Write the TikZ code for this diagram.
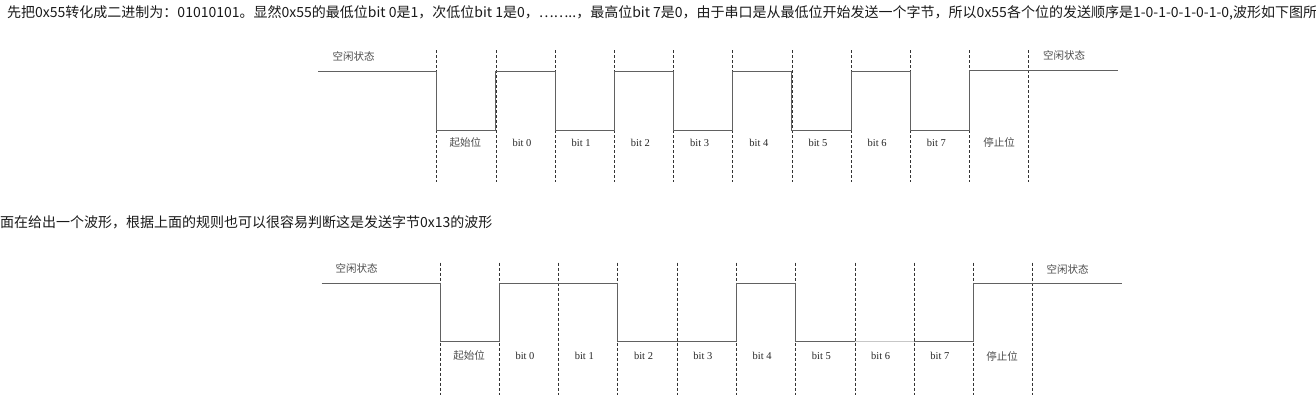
\documentclass[tikz,border=0pt]{standalone}
\usepackage{fontspec}
\setmainfont{Liberation Serif}
\newfontfamily\cjk{Noto Sans CJK SC}
\begin{document}
\begin{tikzpicture}[x=1pt,y=-1pt,
 wave/.style={draw=black!62, line width=0.9pt},
 wavelight/.style={draw=black!22, line width=0.9pt},
 guide/.style={draw=black!80, line width=0.7pt, dash pattern=on 3pt off 2pt},
 lbl/.style={font=\fontsize{10.5}{12}\selectfont, text=black!85, inner sep=0},
 cn/.style={font=\cjk\fontsize{10.5}{12}\selectfont, text=black!70, inner sep=0},
 para/.style={font=\cjk\fontsize{14}{16}\selectfont, text=black!90, anchor=west, inner sep=0}]
\useasboundingbox (0,0) rectangle (1316,410);
\clip (0,0) rectangle (1316,410);

% paragraph texts
\node[para] (t1) at (7,13) {先把0x55转化成二进制为：01010101。显然0x55的最低位bit 0是1，次低位bit 1是0，……..，最高位bit 7是0，由于串口是从最低位开始发送一个字节，所以0x55各个位的发送顺序是1-0-1-0-1-0-1-0,波形如下图所示};
\node[para] (t2) at (0,222) {面在给出一个波形，根据上面的规则也可以很容易判断这是发送字节0x13的波形};

% ---------- top waveform (0x55) ----------
\foreach \i in {0,...,10} {
  \draw[guide] (436.7+59.2*\i,50) -- (436.7+59.2*\i,182);
}
\draw[wave] (318,71)--(436.7,71)--(436.7,130)--(495.9,130)--(495.9,71)--(555.1,71)--(555.1,130)--(614.3,130)--(614.3,71)--(673.5,71)--(673.5,130)--(732.7,130)--(732.7,71)--(791.9,71)--(791.9,130)--(851.1,130)--(851.1,71)--(910.3,71)--(910.3,130)--(969.5,130)--(969.5,70)--(1118,70);

\node[cn] (ia) at (353.5,56) {空闲状态};
\node[cn] (ib) at (1064,55) {空闲状态};
\node[cn] (sa) at (465.3,142.7) {起始位};
\foreach \i in {0,...,7} {
  \node[lbl] (ta\i) at (522+59.2*\i,142.7) {bit \i};
}
\node[cn] (pa) at (999.1,142.7) {停止位};

% ---------- bottom waveform (0x13) ----------
\foreach \i in {0,...,10} {
  \draw[guide] (440+59.27*\i,262.7) -- (440+59.27*\i,395);
}
\draw[wave] (321.7,283.3)--(440,283.3)--(440,341.7)--(499.3,341.7)--(499.3,283.3)--(617.8,283.3)--(617.8,341.7)--(736.4,341.7)--(736.4,283.3)--(795.6,283.3)--(795.6,341.7)--(854.9,341.7);
\draw[wavelight] (854.9,341.7)--(914.2,341.7);
\draw[wave] (914.2,341.7)--(973.4,341.7)--(973.4,283)--(1122,283);

\node[cn] (ic) at (356.5,268) {空闲状态};
\node[cn] (id) at (1067.5,269) {空闲状态};
\node[cn] (sb) at (469,356) {起始位};
\foreach \i in {0,...,7} {
  \node[lbl] (tb\i) at (525+59.27*\i,356) {bit \i};
}
\node[cn] (pb) at (1002,356) {停止位};
\end{tikzpicture}
\end{document}
